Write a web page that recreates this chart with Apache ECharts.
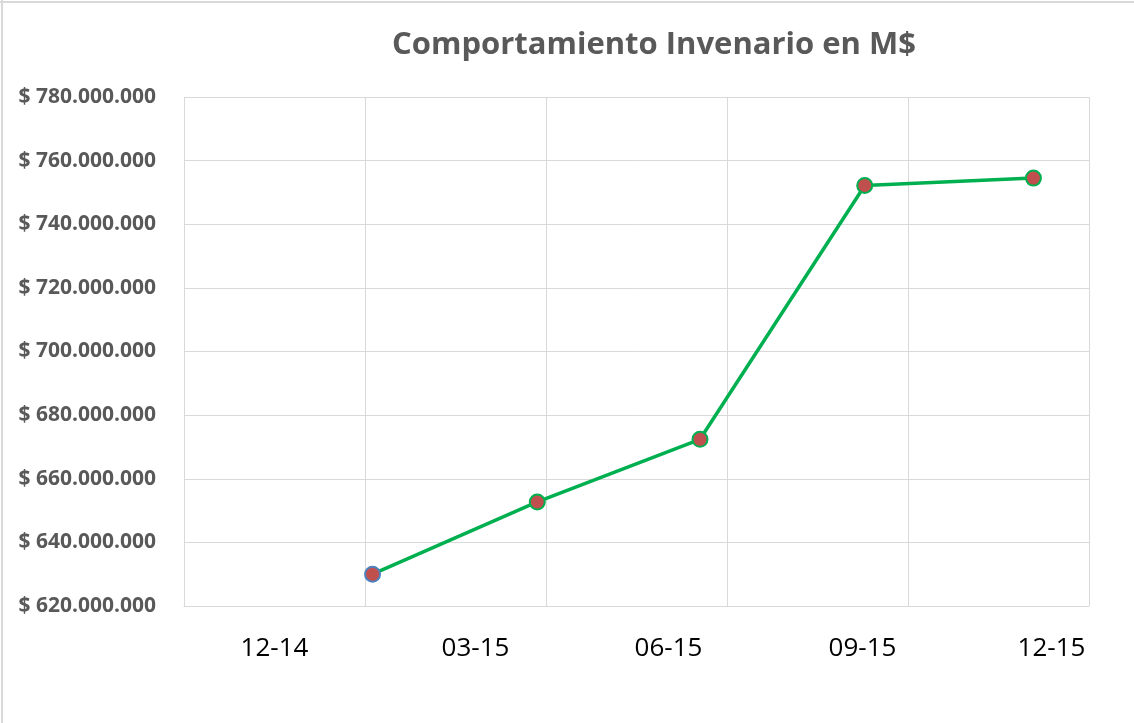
<!DOCTYPE html>
<html>
<head>
<meta charset="utf-8">
<script src="https://cdn.jsdelivr.net/npm/echarts@6/dist/echarts.min.js"></script>
<style>
html,body{margin:0;padding:0;background:#fff;}
#chart{width:1134px;height:723px;}
</style>
</head>
<body>
<div id="chart"></div>
<script>
const titleText = 'Comportamiento Invenario en M$';
const periodLabels = ['12-14', '03-15', '06-15', '09-15', '12-15'];
const dates = ['2015-03-06', '2015-05-28', '2015-08-18', '2015-11-09', '2016-02-02'];
const values = [630000000, 652700000, 672400000, 752200000, 754500000];
const yMin = 620000000, yMax = 780000000, yStep = 20000000;

function fmt(v) {
  return '$ ' + String(Math.round(v)).replace(/\B(?=(\d{3})+(?!\d))/g, '.');
}

// label shifts (px) to mimic the source's label placement
const labelShift = [0, 20, 32, 45, 53];
const rich = {};
labelShift.forEach((s, i) => {
  rich['l' + i] = {fontFamily: 'Open Sans', fontSize: 26, color: '#000000', padding: [0, 0, 0, 2 * s]};
});

const chart = echarts.init(document.getElementById('chart'), null, {renderer: 'canvas'});
const seriesData = dates.map((d, i) => {
  const item = {value: [d, values[i]]};
  if (i === 0) item.itemStyle = {borderColor: '#4f81bd'};
  return item;
});

chart.setOption({
  backgroundColor: '#ffffff',
  animation: false,
  title: {
    text: titleText,
    left: 649, top: 25, textAlign: 'center',
    textStyle: {fontFamily: 'Open Sans', fontWeight: 'bold', fontSize: 31, color: '#595959'}
  },
  grid: {left: 184, top: 97, right: 45, bottom: 117, containLabel: false},
  xAxis: [{
    type: 'category',
    data: periodLabels,
    boundaryGap: true,
    axisLine: {show: true, lineStyle: {color: '#d9d9d9', width: 1}},
    axisTick: {show: false},
    splitLine: {show: true, lineStyle: {color: '#d9d9d9', width: 1}},
    axisLabel: {
      margin: 30,
      formatter: (v, i) => '{l' + i + '|' + v + '}',
      rich: rich,
      fontFamily: 'Open Sans', fontSize: 26, color: '#000000'
    }
  }, {
    type: 'time',
    min: '2014-12-01', max: '2016-03-01',
    show: false
  }],
  yAxis: {
    type: 'value',
    min: yMin, max: yMax, interval: yStep,
    axisLine: {show: false},
    axisTick: {show: false},
    splitLine: {show: true, lineStyle: {color: '#d9d9d9', width: 1}},
    axisLabel: {margin: 28, formatter: fmt, fontFamily: 'Open Sans', fontWeight: 'bold', fontSize: 21, color: '#595959'}
  },
  graphic: [
    {type: 'line', shape: {x1: 2, y1: 0, x2: 2, y2: 723}, style: {stroke: '#d9d9d9', lineWidth: 2}},
    {type: 'line', shape: {x1: 0, y1: 2, x2: 1134, y2: 2}, style: {stroke: '#d9d9d9', lineWidth: 2}}
  ],
  series: [{
    type: 'line',
    xAxisIndex: 1,
    data: seriesData,
    symbol: 'circle',
    symbolSize: 15,
    lineStyle: {color: '#00b050', width: 3.5},
    itemStyle: {color: '#c0504d', borderColor: '#00b050', borderWidth: 2},
    z: 3
  }]
});
</script>
</body>
</html>
